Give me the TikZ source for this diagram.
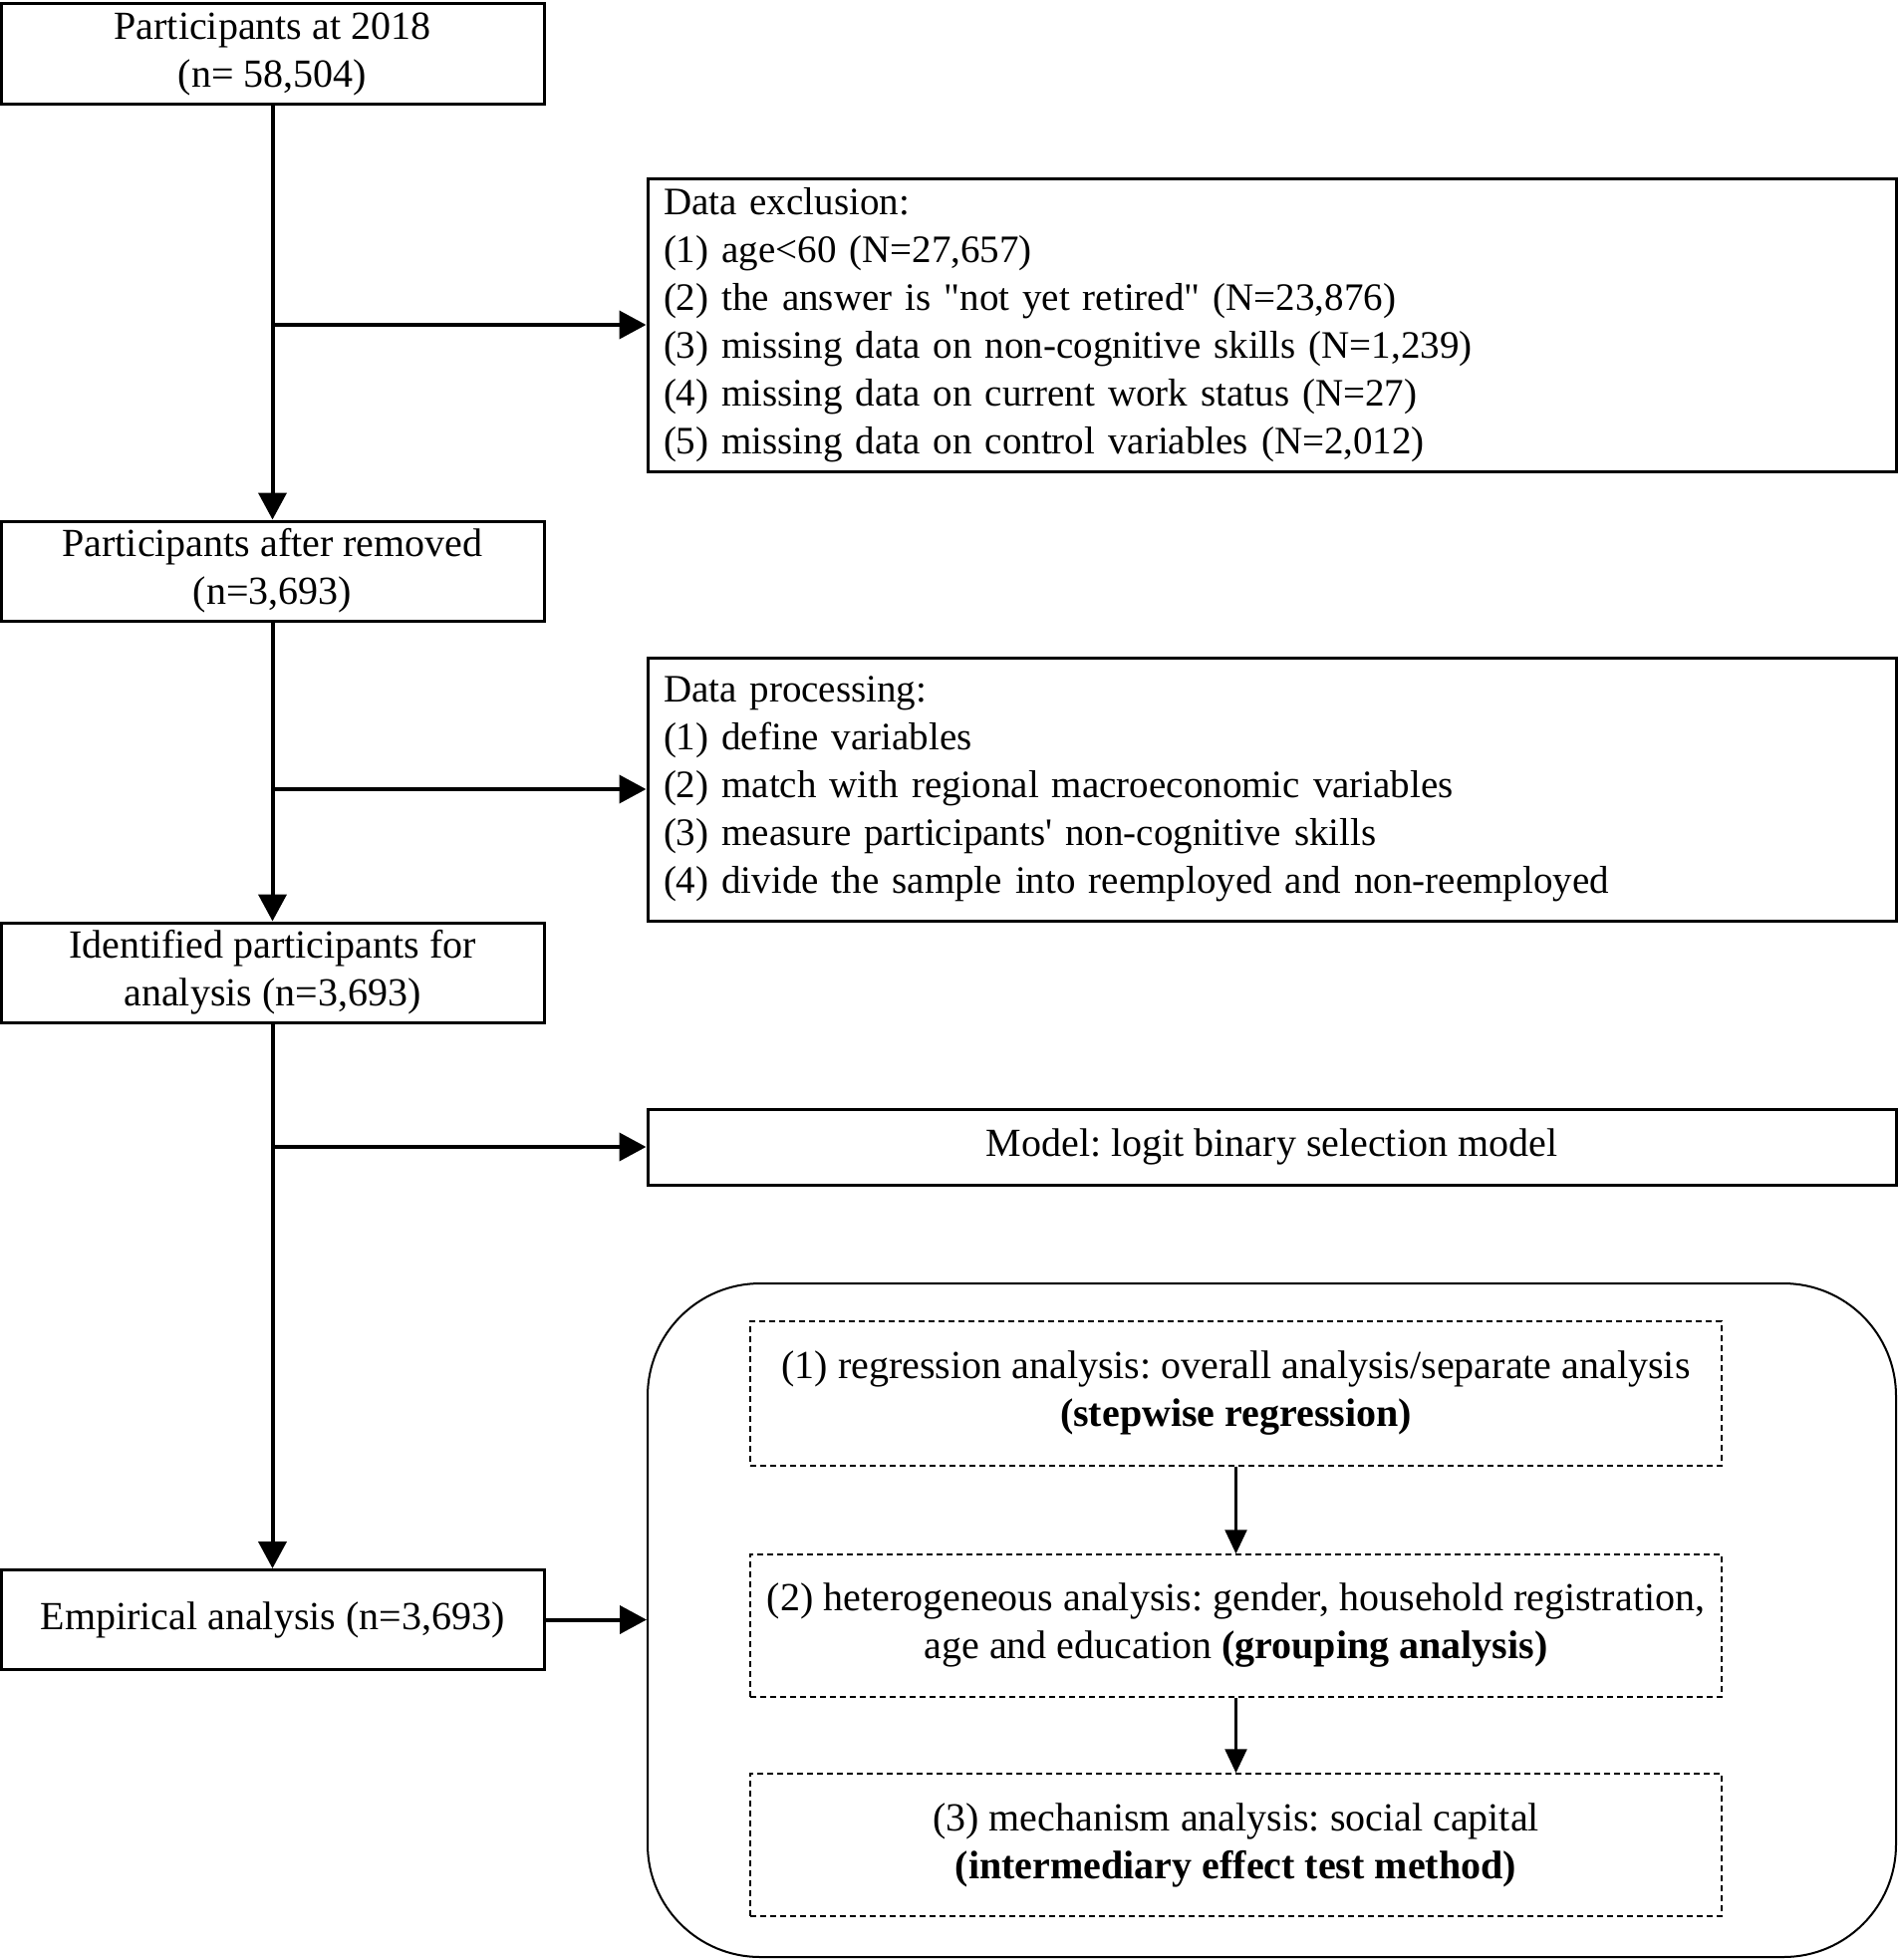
\documentclass[tikz,border=0pt]{standalone}
\usepackage{fontspec}
\setmainfont{Liberation Serif}
\usetikzlibrary{arrows.meta,positioning}
\frenchspacing
\begin{document}
\begin{tikzpicture}[x=1pt,y=-1pt,
  every node/.style={font=\fontsize{40}{48}\selectfont\frenchspacing},
  solidbox/.style={draw,line width=3pt,inner sep=0pt,align=center},
  listtext/.style={font=\fontsize{39}{48}\selectfont\frenchspacing,align=left,text width=1221pt},
  dbox/.style={draw,dashed,dash pattern=on 6pt off 4pt,line width=1.5pt,minimum width=975pt,align=center,inner sep=0pt},
  arr/.style={line width=4pt,-{Triangle[length=27pt,width=28pt]}},
  arrs/.style={line width=2.5pt,-{Triangle[length=24pt,width=22pt]}}]
\useasboundingbox (0,0) rectangle (1904,1967);
% left column boxes
\node[solidbox,minimum width=545pt,minimum height=100pt] (b1) at (273.5,54) {Participants at 2018\\(n= 58,504)};
\node[solidbox,minimum width=545pt,minimum height=100pt] (b2) at (273.5,573) {Participants after removed\\(n=3,693)};
\node[solidbox,minimum width=545pt,minimum height=100pt] (b3) at (273.5,976) {Identified participants for\\analysis (n=3,693)};
\node[solidbox,minimum width=545pt,minimum height=100pt] (b4) at (273.5,1625.5) {Empirical analysis (n=3,693)};
% right column boxes
\node[solidbox,listtext,minimum width=1253pt,minimum height=294pt] (ex) at (1276.5,326) {Data exclusion:\\
(1) age<60 (N=27,657)\\
(2) the answer is \textquotedbl not yet retired\textquotedbl\ (N=23,876)\\
(3) missing data on non-cognitive skills (N=1,239)\\
(4) missing data on current work status (N=27)\\
(5) missing data on control variables (N=2,012)};
\node[solidbox,listtext,minimum width=1253pt,minimum height=264pt] (pr) at (1276.5,792) {Data processing:\\
(1) define variables\\
(2) match with regional macroeconomic variables\\
(3) measure participants\textquotesingle\ non-cognitive skills\\
(4) divide the sample into reemployed and non-reemployed};
\node[solidbox,minimum width=1253pt,minimum height=76pt] (mo) at (1276.5,1151) {Model: logit binary selection model};
\node[draw,line width=2pt,rounded corners=113pt,minimum width=1253pt,minimum height=676pt] (rb) at (1276.5,1626) {};
\node[dbox,minimum height=145pt] (d1) at (1240.5,1398.5) {(1) regression analysis: overall analysis/separate analysis\\\textbf{(stepwise regression)}};
\node[dbox,minimum height=143pt] (d2) at (1240.5,1631.5) {(2) heterogeneous analysis: gender, household registration,\\age and education \textbf{(grouping analysis)}};
\node[dbox,minimum height=143pt] (d3) at (1240.5,1851.5) {(3) mechanism analysis: social capital\\\textbf{(intermediary effect test method)}};
% connectors
\draw[arr] (b1.south) -- (b2.north);
\draw[arr] (b2.south) -- (b3.north);
\draw[arr] (b3.south) -- (b4.north);
\coordinate (j1) at (b1.south |- ex.west);
\coordinate (j2) at (b2.south |- pr.west);
\coordinate (j3) at (b3.south |- mo.west);
\draw[arr] (j1) -- (ex.west);
\draw[arr] (j2) -- (pr.west);
\draw[arr] (j3) -- (mo.west);
\draw[arr] (b4.east) -- (b4.east -| rb.west);
\draw[arrs] (d1.south) -- (d2.north);
\draw[arrs] (d2.south) -- (d3.north);
\end{tikzpicture}
\end{document}
